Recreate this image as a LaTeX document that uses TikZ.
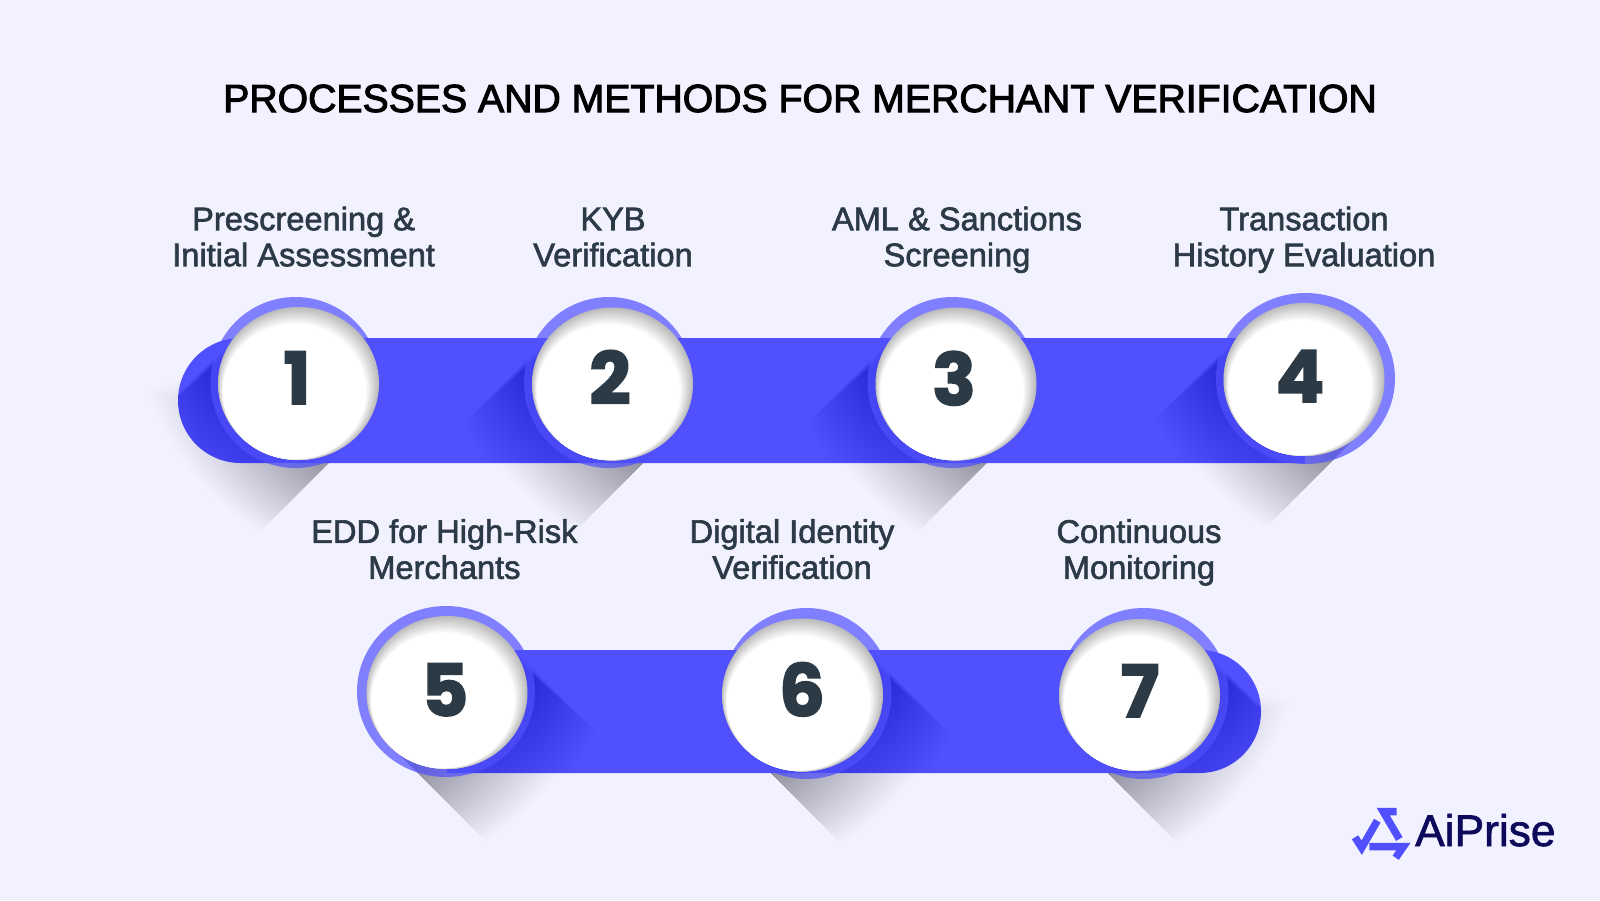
\documentclass[tikz,border=0pt]{standalone}
\usepackage{fontspec}
\setmainfont{Liberation Sans}
\newfontfamily\labelfont[FakeBold=1.9]{Liberation Sans}
\newfontfamily\logofont[FakeBold=1.6]{Liberation Sans}
\newfontfamily\titlefont[FakeBold=2.6]{Liberation Sans}
\newfontfamily\digitfont[BoldFeatures={FakeBold=2.4}]{Poppins}
\definecolor{bgc}{HTML}{F1F1FF}
\definecolor{barc}{HTML}{5050FF}
\definecolor{labc}{HTML}{2B3A45}
\definecolor{grayc}{HTML}{BBBBBB}
\definecolor{navyc}{HTML}{0D0A5C}
\newcommand{\labelpair}[2]{\strut #1\\\strut #2}
\tikzset{
  labeltext/.style={align=center,text=labc,font=\labelfont\fontsize{32.6}{36}\selectfont,inner sep=0pt},
  digittext/.style={anchor=base,text=labc,font=\digitfont\bfseries\fontsize{72}{72}\selectfont,inner sep=0pt},
  logostroke/.style={draw=barc,line width=7.5pt,line join=miter}
}
% shadow on the background, nested about a point of its sharp edge: #1 cx, #2 cy, #3 mirror sign
\newcommand{\bgshadow}[3]{%
  \foreach \kk in {1,...,50}{%
    \pgfmathsetmacro{\tv}{\kk/50}%
    \begin{scope}[shift={(#1,#2)},xscale=#3,shift={(-35,75)},scale=\tv,shift={(35,-75)}]
      \fill[black,opacity=0.0068] (-70,40) -- (38,148) .. controls (82,122) and (135,65) .. (150,6) -- (100,-10) -- cycle;
    \end{scope}
  }%
}
% shadow on a bar: #1 cx, #2 cy, #3 mirror sign
\newcommand{\barshadow}[3]{%
  \foreach \kk in {1,...,50}{%
    \pgfmathsetmacro{\tv}{\kk/50}%
    \begin{scope}[shift={(#1,#2)},xscale=#3,shift={(65,-35)},scale=\tv,shift={(-65,35)}]
      \fill[black,opacity=0.0036] (50,-60) -- (150,40) .. controls (125,90) and (85,130) .. (30,145) -- (-50,60) -- cycle;
    \end{scope}
  }%
}
% white disc with inner shade: #1 cx #2 cy #3 rx #4 ry
\newcommand{\whitedisc}[4]{%
  \foreach \kk in {0,...,20}{%
    \pgfmathsetmacro{\tv}{\kk/20}%
    \pgfmathsetmacro{\mixv}{100*\tv}%
    \fill[white!\mixv!grayc] ({#1-\tv*9*0.45},{#2+\tv*9*0.89}) ellipse [x radius={#3-\tv*9},y radius={#4-\tv*9}];
  }%
}
\newcommand{\ringdisc}[4]{\fill[barc,opacity=.7] (#1,#2) ellipse [x radius=#3,y radius=#4];}
\newcommand{\barone}{(240.5,338) -- (1305,338) -- (1305,463) -- (240.5,463)
  .. controls (206,463) and (178,435) .. (178,400.5)
  .. controls (178,366) and (206,338) .. (240.5,338) -- cycle}
\newcommand{\bartwo}{(447,650) -- (1199.5,650)
  .. controls (1233.5,650) and (1261,677.5) .. (1261,711.5)
  .. controls (1261,745.5) and (1233.5,773) .. (1199.5,773) -- (447,773) -- cycle}
\begin{document}
\begin{tikzpicture}[x=1pt,y=-1pt]
\path[use as bounding box,fill=bgc] (0,0) rectangle (1600,900);

% shadows on the background
\foreach \cx/\cy in {298.5/383.5,612.5/384,956/384,1304/379.5}{\bgshadow{\cx}{\cy}{-1}}
\foreach \cx/\cy in {447/692.5,802.5/695,1139.5/695}{\bgshadow{\cx}{\cy}{1}}

% bars
\fill[barc] \barone;
\fill[barc] \bartwo;

% shadows on the bars
\begin{scope}
\clip \barone;
\foreach \cx/\cy in {298.5/383.5,612.5/384,956/384,1304/379.5}{\barshadow{\cx}{\cy}{-1}}
\end{scope}
\begin{scope}
\clip \bartwo;
\foreach \cx/\cy in {447/692.5,802.5/695,1139.5/695}{\barshadow{\cx}{\cy}{1}}
\end{scope}

% rings
\ringdisc{295.5}{382.5}{85}{85.5}
\ringdisc{609}{382.5}{85}{85.5}
\ringdisc{952.5}{382.5}{85}{85.5}
\ringdisc{1305.5}{378.5}{89.5}{85.5}
\ringdisc{446}{691.5}{89}{85.5}
\ringdisc{806.5}{693.5}{85}{85.5}
\ringdisc{1143.5}{693.5}{85}{85.5}

% discs
\whitedisc{298.5}{383.5}{80.5}{76.5}
\whitedisc{612.5}{384}{80.5}{76.5}
\whitedisc{956}{384}{80.5}{76.5}
\whitedisc{1304}{379.5}{80.5}{76.5}
\whitedisc{447}{692.5}{80.5}{76.5}
\whitedisc{802.5}{695}{80.5}{76.5}
\whitedisc{1139.5}{695}{80.5}{76}

% digits
\node[digittext] (d1) at (297,404) {1};
\node[digittext] (d2) at (610,404) {2};
\node[digittext] (d3) at (954,405) {3};
\node[digittext] (d4) at (1300,402) {4};
\node[digittext] (d5) at (445,716) {5};
\node[digittext] (d6) at (802,716) {6};
\node[digittext] (d7) at (1140,717) {7};

% title
\node[anchor=base,text=black,font=\titlefont\fontsize{39.2}{39.2}\selectfont,inner sep=0pt] (title) at (800,112) {PROCESSES AND METHODS FOR MERCHANT VERIFICATION};

% labels
\node[labeltext] (l1) at (303.6,241) {\labelpair{Prescreening \&}{Initial Assessment}};
\node[labeltext] (l2) at (613,241) {\labelpair{KYB}{Verification}};
\node[labeltext] (l3) at (957,241) {\labelpair{AML \& Sanctions}{Screening}};
\node[labeltext] (l4) at (1304,241) {\labelpair{Transaction}{History Evaluation}};
\node[labeltext] (l5) at (444.4,553.6) {\labelpair{EDD for High-Risk}{Merchants}};
\node[labeltext] (l6) at (792,553.6) {\labelpair{Digital Identity}{Verification}};
\node[labeltext] (l7) at (1139,553.6) {\labelpair{Continuous}{Monitoring}};

% logo
\draw[logostroke] (1355,837.3) -- (1361.7,847.7) -- (1377.3,820.7);
\draw[logostroke] (1396.7,811.7) -- (1383.3,811.7) -- (1399.3,839);
\draw[logostroke] (1369.3,846.7) -- (1403.3,846.7) -- (1395.7,857.7);
\node[anchor=base west,text=navyc,font=\logofont\fontsize{44.3}{44.3}\selectfont,inner sep=0pt] (logo) at (1415,846) {AiPrise};
\end{tikzpicture}
\end{document}
